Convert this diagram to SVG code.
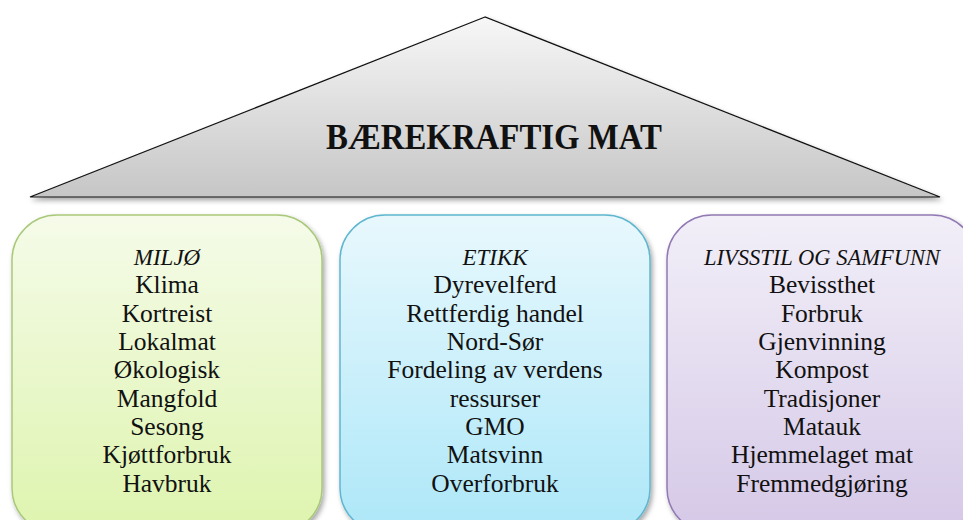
<svg xmlns="http://www.w3.org/2000/svg" width="963" height="520" viewBox="0 0 963 520">
<defs>
<linearGradient id="gTri" x1="0" y1="0" x2="0" y2="1"><stop offset="0" stop-color="#f7f7f7"/><stop offset="1" stop-color="#c6c6c6"/></linearGradient>
<linearGradient id="gGreen" x1="0" y1="0" x2="0" y2="1"><stop offset="0" stop-color="#f5fbe9"/><stop offset="1" stop-color="#def4ae"/></linearGradient>
<linearGradient id="gBlue" x1="0" y1="0" x2="0" y2="1"><stop offset="0" stop-color="#e8f8fd"/><stop offset="1" stop-color="#ade7f8"/></linearGradient>
<linearGradient id="gPurple" x1="0" y1="0" x2="0" y2="1"><stop offset="0" stop-color="#f2eff8"/><stop offset="1" stop-color="#d5c8e7"/></linearGradient>
<filter id="sh" x="-10%" y="-10%" width="125%" height="125%"><feDropShadow dx="2" dy="3" stdDeviation="2.5" flood-color="#000" flood-opacity="0.35"/></filter>
</defs>
<style>
text{font-family:"Liberation Serif","DejaVu Serif",serif;font-size:25.5px;fill:#111;text-anchor:middle}
.title{font-weight:bold;font-size:36px}
.head{font-style:italic;font-size:23px}
.box{stroke-width:1.5}
</style>
<g id="roof">
<polygon points="485,17 30,197 940,197" fill="url(#gTri)" stroke="#111" stroke-width="1.2" filter="url(#sh)"/>
<text class="title" x="494" y="149" textLength="336" lengthAdjust="spacingAndGlyphs">BÆREKRAFTIG MAT</text>
</g>
<g id="miljo">
<rect class="box" x="12" y="215" width="310" height="318" rx="45" fill="url(#gGreen)" stroke="#a9c97a" filter="url(#sh)"/>
<text x="167" y="264.5" class="head">MILJØ</text>
<text x="167" y="293">Klima</text>
<text x="167" y="321.5">Kortreist</text>
<text x="167" y="350">Lokalmat</text>
<text x="167" y="378">Økologisk</text>
<text x="167" y="406.5">Mangfold</text>
<text x="167" y="435">Sesong</text>
<text x="167" y="463">Kjøttforbruk</text>
<text x="167" y="491.5">Havbruk</text>
</g>
<g id="etikk">
<rect class="box" x="340" y="215" width="310" height="318" rx="45" fill="url(#gBlue)" stroke="#5fb6cf" filter="url(#sh)"/>
<text x="495" y="264.5" class="head">ETIKK</text>
<text x="495" y="293">Dyrevelferd</text>
<text x="495" y="321.5">Rettferdig handel</text>
<text x="495" y="350">Nord-Sør</text>
<text x="495" y="378">Fordeling av verdens</text>
<text x="495" y="406.5">ressurser</text>
<text x="495" y="435">GMO</text>
<text x="495" y="463">Matsvinn</text>
<text x="495" y="491.5">Overforbruk</text>
</g>
<g id="livsstil">
<rect class="box" x="667" y="215" width="310" height="318" rx="45" fill="url(#gPurple)" stroke="#9179b3" filter="url(#sh)"/>
<text x="822" y="264.5" class="head" textLength="236" lengthAdjust="spacingAndGlyphs">LIVSSTIL OG SAMFUNN</text>
<text x="822" y="293">Bevissthet</text>
<text x="822" y="321.5">Forbruk</text>
<text x="822" y="350">Gjenvinning</text>
<text x="822" y="378">Kompost</text>
<text x="822" y="406.5">Tradisjoner</text>
<text x="822" y="435">Matauk</text>
<text x="822" y="463">Hjemmelaget mat</text>
<text x="822" y="491.5">Fremmedgjøring</text>
</g>
<g id="connectors"></g>
</svg>
